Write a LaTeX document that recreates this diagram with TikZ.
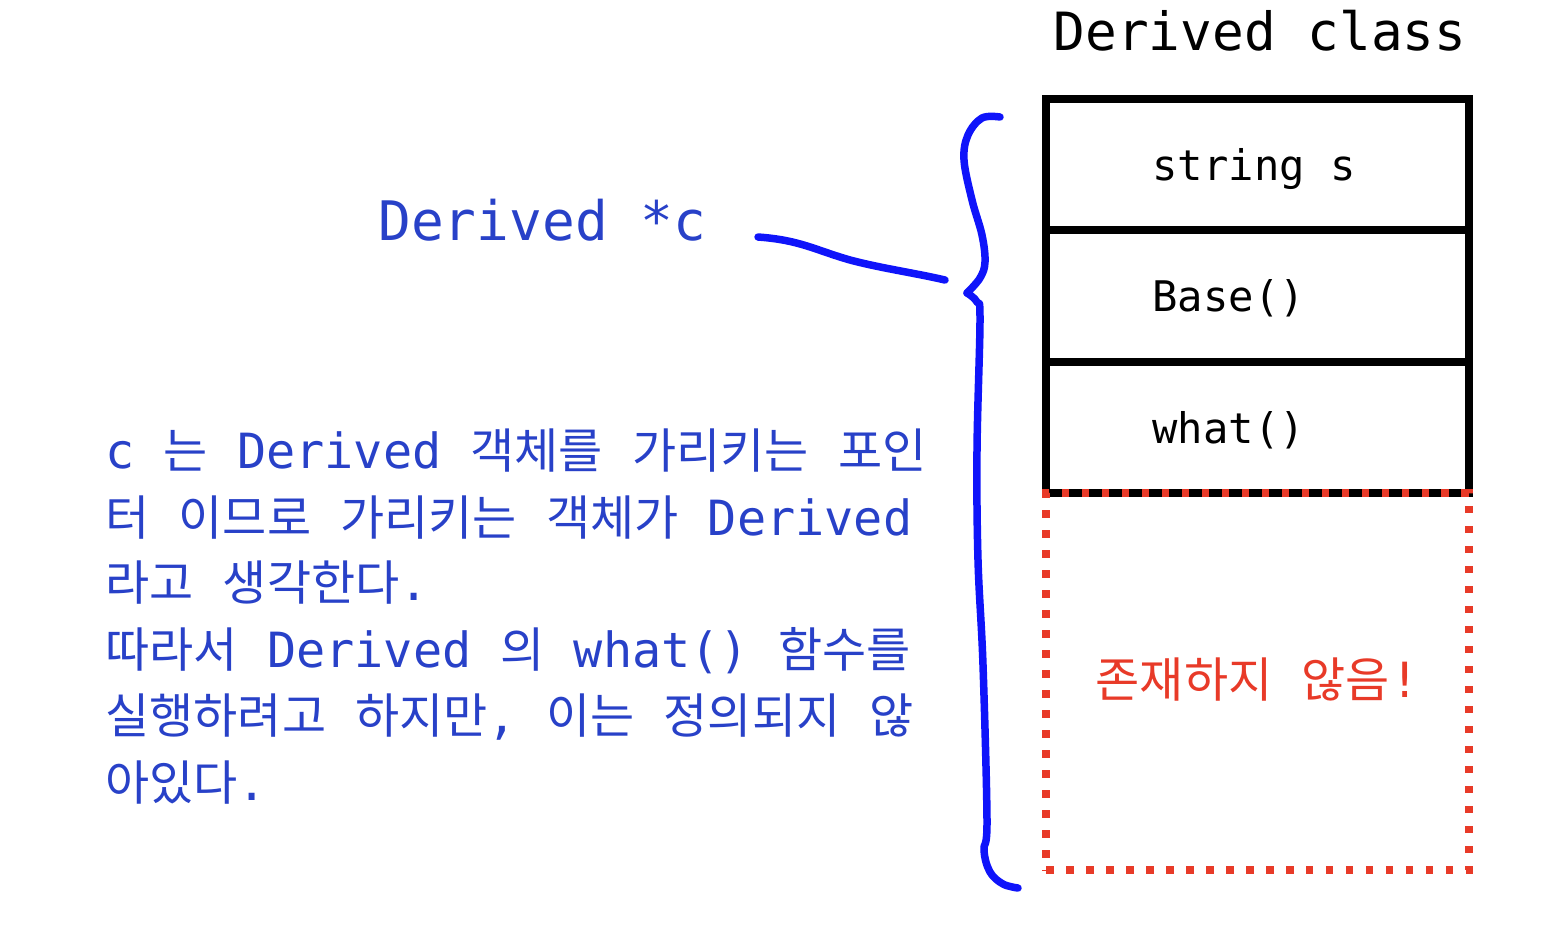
\documentclass[tikz,border=0pt]{standalone}
\usepackage{fontspec}
\setmonofont{DejaVu Sans Mono}
\newfontfamily\kofont{Noto Sans CJK KR}[Scale=0.99]
\newcommand{\ko}[1]{{\kofont #1}}
\usepackage{xcolor}
\usetikzlibrary{positioning}

\definecolor{txtblue}{RGB}{40,65,200}
\definecolor{penblue}{RGB}{15,20,250}
\definecolor{warnred}{RGB}{232,58,40}

\begin{document}
\begin{tikzpicture}[
    x=0.02cm, y=-0.02cm,
    cell/.style={draw, line width=0.16cm, minimum width=8.46cm, minimum height=2.63cm,
                 text height=0.84cm, text depth=0.2cm,
                 inner sep=0pt, outer sep=0pt, font=\fontsize{24}{28}\selectfont\ttfamily},
    gone/.style={draw=warnred, line width=0.16cm, dash pattern=on 0.15cm off 0.25cm,
                 minimum width=8.46cm, minimum height=7.54cm, inner sep=0pt, outer sep=0pt,
                 text height=0.84cm, text depth=0.2cm,
                 text=warnred, font=\fontsize{27.6}{33}\selectfont\ttfamily},
    para/.style={anchor=base west, inner sep=0pt, text=txtblue,
                 font=\fontsize{27.6}{33}\selectfont\ttfamily},
    pen/.style={draw=penblue, line width=0.15cm, line cap=round, line join=round}
]
\useasboundingbox (0,0) rectangle (1562,924);

% Memory layout of the object
\node[font=\fontsize{30}{36}\selectfont\ttfamily, anchor=base] (title) at (1260,50) {Derived class};
\node[cell] (str) at (1257.5,164.5) {\makebox[4.2cm][l]{string s}};
\node[cell, below=0pt of str] (base) {\makebox[4.2cm][l]{Base()}};
\node[cell, below=0pt of base] (what) {\makebox[4.2cm][l]{what()}};
\node[gone, below=0pt of what] (missing) {\ko{존재하지} \ko{않음}!};

% Pointer label
\node[anchor=base west, inner sep=0pt, text=txtblue,
      font=\fontsize{31}{37}\selectfont\ttfamily] (ptr) at (378,240) {Derived *c};

% Explanation
\node[para] (para1) at (105,468) {c \ko{는} Derived \ko{객체를} \ko{가리키는} \ko{포인}};
\node[para] (para2) at (105,535) {\ko{터} \ko{이므로} \ko{가리키는} \ko{객체가} Derived};
\node[para] (para3) at (105,600) {\ko{라고} \ko{생각한다}.};
\node[para] (para4) at (105,667) {\ko{따라서} Derived \ko{의} what() \ko{함수를}};
\node[para] (para5) at (105,733) {\ko{실행하려고} \ko{하지만}, \ko{이는} \ko{정의되지} \ko{않}};
\node[para] (para6) at (105,800) {\ko{아있다}.};

% Hand drawn stroke and brace
\coordinate (lnstart) at (758,237);
\coordinate (tip) at (945,280);
\draw[pen] (lnstart) .. controls (800,240) and (815,250) .. (850,260)
           .. controls (880,268) and (915,273) .. (tip);
\draw[pen] plot[smooth, tension=0.6] coordinates {(1000,117) (982,118) (968,135) (964,160)
           (972,200) (982,235) (985,262) (980,278) (967,293)};
\draw[pen] plot[smooth, tension=0.6] coordinates {(967,293) (977,302) (980,320) (977,450)
           (978,560) (983,665) (987,820) (984,850) (990,872) (1003,884) (1018,888)};

\end{tikzpicture}
\end{document}
